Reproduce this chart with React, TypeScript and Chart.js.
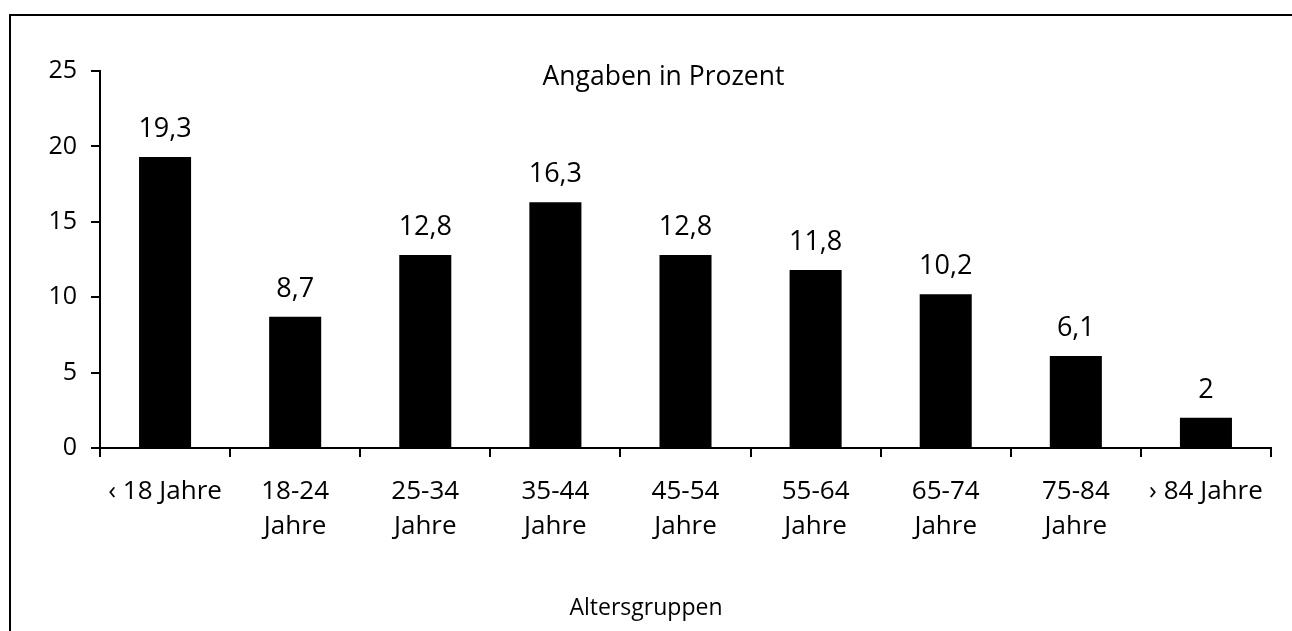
import React, { useEffect, useRef } from 'react';
import { Chart, registerables } from 'chart.js';

Chart.register(...registerables);

const categories: string[][] = [
  ['‹ 18 Jahre'],
  ['18-24', 'Jahre'],
  ['25-34', 'Jahre'],
  ['35-44', 'Jahre'],
  ['45-54', 'Jahre'],
  ['55-64', 'Jahre'],
  ['65-74', 'Jahre'],
  ['75-84', 'Jahre'],
  ['› 84 Jahre'],
];
const values: number[] = [19.3, 8.7, 12.8, 16.3, 12.8, 11.8, 10.2, 6.1, 2];
const yMin = 0;
const yMax = 25;
const yStep = 5;
const chartTitle = 'Angaben in Prozent';
const xAxisTitle = 'Altersgruppen';

const FONT = '"Open Sans", "DejaVu Sans", sans-serif';
const fmt = (v: number) => String(v).replace('.', ',');

const overlayPlugin = {
  id: 'overlay',
  afterDraw(chart: any) {
    const ctx = chart.ctx as CanvasRenderingContext2D;
    const area = chart.chartArea;
    ctx.save();
    // frame
    ctx.strokeStyle = '#000';
    ctx.lineWidth = 2;
    ctx.strokeRect(10, 15, chart.width + 100, chart.height + 100);
    ctx.fillStyle = '#000';
    ctx.textAlign = 'center';
    ctx.textBaseline = 'alphabetic';
    // title inside plot
    ctx.font = `26.5px ${FONT}`;
    ctx.fillText(chartTitle, (area.left + area.right) / 2 - 22, 85);
    // x axis title
    ctx.font = `23px ${FONT}`;
    ctx.fillText(xAxisTitle, chart.width / 2, 615);
    // value labels
    ctx.font = `27px ${FONT}`;
    const meta = chart.getDatasetMeta(0);
    meta.data.forEach((bar: any, i: number) => {
      ctx.fillText(fmt(values[i]), bar.x, bar.y - 20);
    });
    ctx.restore();
  },
};

export default function App() {
  const ref = useRef<HTMLCanvasElement>(null);
  useEffect(() => {
    if (!ref.current) return;
    const chart = new Chart(ref.current, {
      type: 'bar',
      data: {
        labels: categories,
        datasets: [
          {
            data: values,
            backgroundColor: '#000',
            borderWidth: 0,
            barPercentage: 0.4,
            categoryPercentage: 1,
          },
        ],
      },
      options: {
        animation: false,
        responsive: false,
        maintainAspectRatio: false,
        devicePixelRatio: 1,
        layout: { padding: { left: 0, top: 71, right: 21, bottom: 0 } },
        plugins: { legend: { display: false }, tooltip: { enabled: false }, title: { display: false } },
        scales: {
          x: {
            grid: {
              display: true,
              offset: true,
              drawOnChartArea: false,
              drawTicks: true,
              tickLength: 9,
              color: '#000',
              lineWidth: 2,
            },
            border: { display: true, color: '#000', width: 2 },
            ticks: {
              color: '#000',
              font: { family: FONT, size: 26, lineHeight: 1.35 },
              padding: 17,
              maxRotation: 0,
              autoSkip: false,
            },
            afterFit: (s: any) => {
              s.height = 183;
            },
          },
          y: {
            min: yMin,
            max: yMax,
            grid: {
              display: true,
              drawOnChartArea: false,
              drawTicks: true,
              tickLength: 9,
              color: '#000',
              lineWidth: 2,
            },
            border: { display: true, color: '#000', width: 2 },
            ticks: {
              stepSize: yStep,
              color: '#000',
              font: { family: FONT, size: 25 },
              padding: 14,
            },
            afterFit: (s: any) => {
              s.width = 100;
            },
          },
        },
      },
      plugins: [overlayPlugin],
    });
    return () => chart.destroy();
  }, []);
  return (
    <div style={{ position: 'fixed', left: 0, top: 0, width: 1292, height: 631, background: '#fff' }}>
      <canvas ref={ref} width={1292} height={631} style={{ display: 'block' }} />
    </div>
  );
}
